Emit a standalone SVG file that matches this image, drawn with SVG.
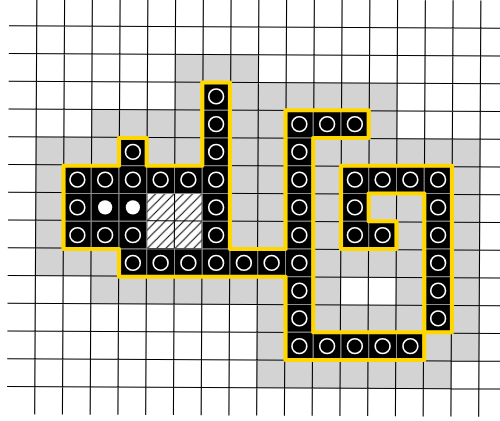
<svg xmlns="http://www.w3.org/2000/svg" width="500" height="421" viewBox="0 0 500 421">
<style>
.bg{fill:#fff}
.halo{fill:#d3d3d3}
.gl{stroke:#000;stroke-width:1.1;fill:none}
.blk{fill:#000;stroke:#8c8c8c;stroke-width:1}
.ring{fill:none;stroke:#fff;stroke-width:1.6}
.dot{fill:#fff}
.outline{fill:none;stroke:#ffd700;stroke-width:4.2;stroke-linejoin:round}
</style>
<defs>
<pattern id="hatch" patternUnits="userSpaceOnUse" x="146.75" y="193.5" width="9.25" height="9.25">
<path d="M-1 1 L1 -1 M0 9.25 L9.25 0 M8.25 10.25 L10.25 8.25" stroke="#000" stroke-width="1"/>
</pattern>
<g id="c"><rect class="blk" width="27.75" height="27.75"/><circle class="ring" cx="13.875" cy="13.875" r="7.4"/></g>
<g id="d"><rect class="blk" width="27.75" height="27.75"/><circle class="dot" cx="13.875" cy="13.875" r="7.1"/></g>
</defs>
<rect class="bg" x="0" y="0" width="500" height="421"/>
<g id="grid" transform="rotate(0.3 250 210)">
<g id="halo" class="halo">
<rect x="174.5" y="54.75" width="83.25" height="27.75"/>
<rect x="174.5" y="82.5" width="27.75" height="27.75"/>
<rect x="230" y="82.5" width="166.5" height="27.75"/>
<rect x="91.25" y="110.25" width="111" height="27.75"/>
<rect x="230" y="110.25" width="55.5" height="27.75"/>
<rect x="368.75" y="110.25" width="27.75" height="27.75"/>
<rect x="35.75" y="138" width="83.25" height="27.75"/>
<rect x="146.75" y="138" width="55.5" height="27.75"/>
<rect x="230" y="138" width="55.5" height="27.75"/>
<rect x="313.25" y="138" width="166.5" height="27.75"/>
<rect x="35.75" y="165.75" width="27.75" height="27.75"/>
<rect x="230" y="165.75" width="55.5" height="27.75"/>
<rect x="313.25" y="165.75" width="27.75" height="27.75"/>
<rect x="452" y="165.75" width="27.75" height="27.75"/>
<rect x="35.75" y="193.5" width="27.75" height="27.75"/>
<rect x="230" y="193.5" width="55.5" height="27.75"/>
<rect x="313.25" y="193.5" width="27.75" height="27.75"/>
<rect x="368.75" y="193.5" width="55.5" height="27.75"/>
<rect x="452" y="193.5" width="27.75" height="27.75"/>
<rect x="35.75" y="221.25" width="27.75" height="27.75"/>
<rect x="230" y="221.25" width="55.5" height="27.75"/>
<rect x="313.25" y="221.25" width="27.75" height="27.75"/>
<rect x="396.5" y="221.25" width="27.75" height="27.75"/>
<rect x="452" y="221.25" width="27.75" height="27.75"/>
<rect x="35.75" y="249" width="83.25" height="27.75"/>
<rect x="313.25" y="249" width="111" height="27.75"/>
<rect x="452" y="249" width="27.75" height="27.75"/>
<rect x="91.25" y="276.75" width="194.25" height="27.75"/>
<rect x="313.25" y="276.75" width="27.75" height="27.75"/>
<rect x="396.5" y="276.75" width="27.75" height="27.75"/>
<rect x="452" y="276.75" width="27.75" height="27.75"/>
<rect x="257.75" y="304.5" width="27.75" height="27.75"/>
<rect x="313.25" y="304.5" width="111" height="27.75"/>
<rect x="452" y="304.5" width="27.75" height="27.75"/>
<rect x="257.75" y="332.25" width="27.75" height="27.75"/>
<rect x="424.25" y="332.25" width="55.5" height="27.75"/>
<rect x="257.75" y="360" width="194.25" height="27.75"/>
</g>
<path id="gridlines" class="gl" d="M8 27H507.5M8 54.75H507.5M8 82.5H507.5M8 110.25H507.5M8 138H507.5M8 165.75H507.5M8 193.5H507.5M8 221.25H507.5M8 249H507.5M8 276.75H507.5M8 304.5H507.5M8 332.25H507.5M8 360H507.5M8 387.75H507.5M35.75 -0.75V415.5M63.5 -0.75V415.5M91.25 -0.75V415.5M119 -0.75V415.5M146.75 -0.75V415.5M174.5 -0.75V415.5M202.25 -0.75V415.5M230 -0.75V415.5M257.75 -0.75V415.5M285.5 -0.75V415.5M313.25 -0.75V415.5M341 -0.75V415.5M368.75 -0.75V415.5M396.5 -0.75V415.5M424.25 -0.75V415.5M452 -0.75V415.5M479.75 -0.75V415.5"/>
</g>
<rect id="hatched" x="146.75" y="193.5" width="55.5" height="55.5" fill="url(#hatch)"/>
<g id="cells">
<use href="#c" x="202.25" y="82.5"/>
<use href="#c" x="202.25" y="110.25"/>
<use href="#c" x="285.5" y="110.25"/>
<use href="#c" x="313.25" y="110.25"/>
<use href="#c" x="341" y="110.25"/>
<use href="#c" x="119" y="138"/>
<use href="#c" x="202.25" y="138"/>
<use href="#c" x="285.5" y="138"/>
<use href="#c" x="63.5" y="165.75"/>
<use href="#c" x="91.25" y="165.75"/>
<use href="#c" x="119" y="165.75"/>
<use href="#c" x="146.75" y="165.75"/>
<use href="#c" x="174.5" y="165.75"/>
<use href="#c" x="202.25" y="165.75"/>
<use href="#c" x="285.5" y="165.75"/>
<use href="#c" x="341" y="165.75"/>
<use href="#c" x="368.75" y="165.75"/>
<use href="#c" x="396.5" y="165.75"/>
<use href="#c" x="424.25" y="165.75"/>
<use href="#c" x="63.5" y="193.5"/>
<use href="#d" x="91.25" y="193.5"/>
<use href="#d" x="119" y="193.5"/>
<use href="#c" x="202.25" y="193.5"/>
<use href="#c" x="285.5" y="193.5"/>
<use href="#c" x="341" y="193.5"/>
<use href="#c" x="424.25" y="193.5"/>
<use href="#c" x="63.5" y="221.25"/>
<use href="#c" x="91.25" y="221.25"/>
<use href="#c" x="119" y="221.25"/>
<use href="#c" x="202.25" y="221.25"/>
<use href="#c" x="285.5" y="221.25"/>
<use href="#c" x="341" y="221.25"/>
<use href="#c" x="368.75" y="221.25"/>
<use href="#c" x="424.25" y="221.25"/>
<use href="#c" x="119" y="249"/>
<use href="#c" x="146.75" y="249"/>
<use href="#c" x="174.5" y="249"/>
<use href="#c" x="202.25" y="249"/>
<use href="#c" x="230" y="249"/>
<use href="#c" x="257.75" y="249"/>
<use href="#c" x="285.5" y="249"/>
<use href="#c" x="424.25" y="249"/>
<use href="#c" x="285.5" y="276.75"/>
<use href="#c" x="424.25" y="276.75"/>
<use href="#c" x="285.5" y="304.5"/>
<use href="#c" x="424.25" y="304.5"/>
<use href="#c" x="285.5" y="332.25"/>
<use href="#c" x="313.25" y="332.25"/>
<use href="#c" x="341" y="332.25"/>
<use href="#c" x="368.75" y="332.25"/>
<use href="#c" x="396.5" y="332.25"/>
</g>
<g id="outlines" class="outline">
<path id="outline-main" d="M202.25 82.5H230V249H285.5V110.25H368.75V138H313.25V332.25H424.25V360H285.5V276.75H119V249H63.5V165.75H119V138H146.75V165.75H202.25Z"/>
<path id="outline-right" d="M341 165.75H452V332.25H424.25V193.5H368.75V221.25H396.5V249H341Z"/>
</g>
</svg>
